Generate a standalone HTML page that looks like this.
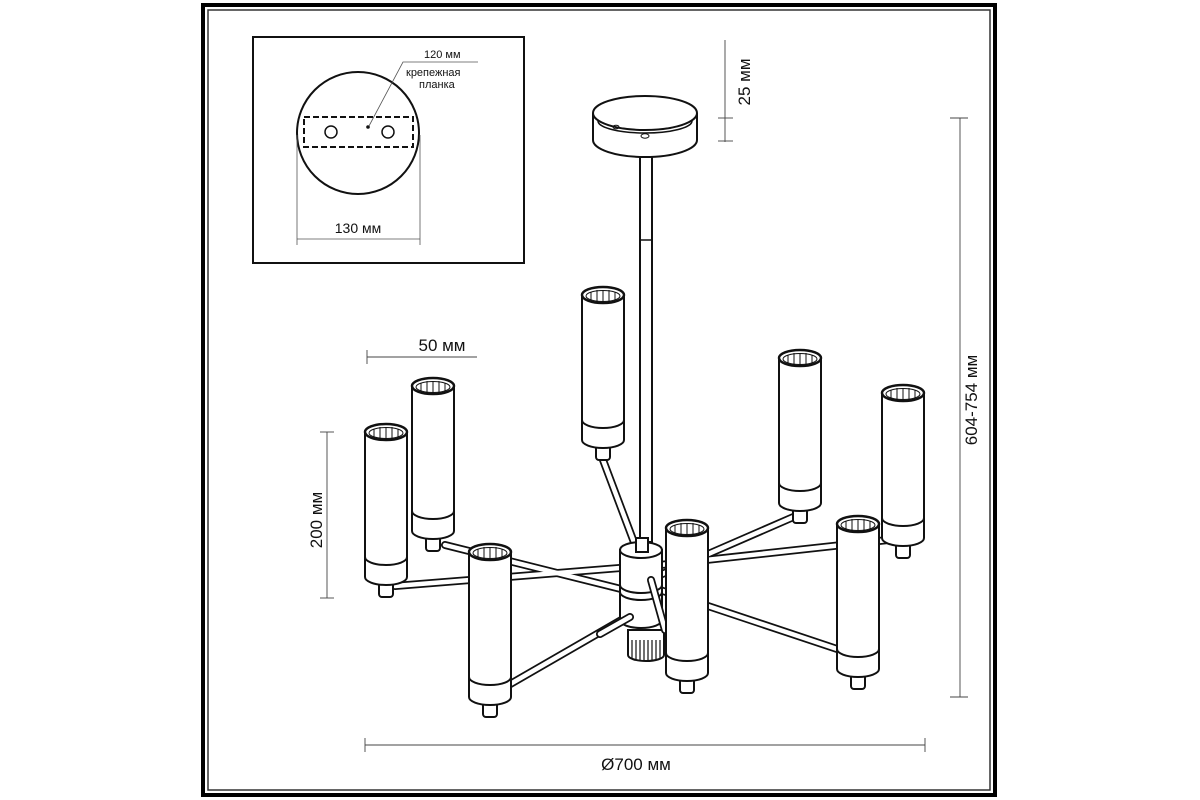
<!DOCTYPE html>
<html><head><meta charset="utf-8"><style>
html,body{margin:0;padding:0;background:#fff}
svg{display:block}
text{font-family:"Liberation Sans",sans-serif;fill:#111}
</style></head><body>
<svg width="1200" height="800" viewBox="0 0 1200 800" xmlns="http://www.w3.org/2000/svg">
<defs>
<g id="lamp" fill="#fff" stroke="#111" stroke-width="2">
  <rect x="-7" y="148" width="14" height="17" rx="3"/>
  <path d="M-21 0 V145 A21 8 0 0 0 21 145 V0 Z"/>
  <path d="M-21 125 A21 8 0 0 0 21 125" fill="none"/>
  <ellipse cx="0" cy="0" rx="21" ry="8" stroke-width="2.5"/>
  <ellipse cx="0" cy="1" rx="17" ry="5.5" stroke-width="1"/>
  <g stroke-width="1">
    <line x1="-12" y1="-3" x2="-12" y2="5"/><line x1="-6" y1="-5" x2="-6" y2="6"/>
    <line x1="0" y1="-5" x2="0" y2="6"/><line x1="6" y1="-5" x2="6" y2="6"/>
    <line x1="12" y1="-3" x2="12" y2="5"/>
  </g>
</g>
</defs>
<!-- frame -->
<rect x="203" y="5" width="792" height="790" fill="none" stroke="#000" stroke-width="4"/>
<rect x="208" y="10" width="782" height="780" fill="none" stroke="#333" stroke-width="1.5"/>

<!-- inset -->
<rect x="253" y="37" width="271" height="226" fill="none" stroke="#111" stroke-width="2"/>
<circle cx="358" cy="133" r="61" fill="none" stroke="#111" stroke-width="2"/>
<rect x="304" y="117" width="109" height="30" fill="none" stroke="#111" stroke-width="2" stroke-dasharray="6,3"/>
<circle cx="331" cy="132" r="6" fill="none" stroke="#111" stroke-width="1.5"/>
<circle cx="388" cy="132" r="6" fill="none" stroke="#111" stroke-width="1.5"/>
<circle cx="368" cy="127" r="1.8" fill="#111"/>
<polyline points="369,126 403,62 478,62" fill="none" stroke="#555" stroke-width="0.8"/>
<text x="424" y="58" font-size="11">120 мм</text>
<text x="406" y="76" font-size="11">крепежная</text>
<text x="419" y="88" font-size="11">планка</text>
<line x1="297" y1="135" x2="297" y2="245" stroke="#555" stroke-width="0.8"/>
<line x1="420" y1="135" x2="420" y2="245" stroke="#555" stroke-width="0.8"/>
<line x1="297" y1="239" x2="420" y2="239" stroke="#555" stroke-width="0.8"/>
<text x="358" y="233" font-size="14" text-anchor="middle">130 мм</text>

<!-- canopy -->
<path d="M593 113 V140 A52 17 0 0 0 697 140 V113" fill="#fff" stroke="#111" stroke-width="2"/>
<ellipse cx="645" cy="113" rx="52" ry="17" fill="#fff" stroke="#111" stroke-width="2"/>
<path d="M598 121 A47 12 0 0 0 692 121" fill="none" stroke="#111" stroke-width="1.5"/>
<ellipse cx="616" cy="127" rx="3" ry="1.8" fill="none" stroke="#111"/>
<ellipse cx="645" cy="136" rx="4" ry="2.2" fill="none" stroke="#111"/>
<!-- rod -->
<rect x="640" y="157" width="12" height="385" fill="#fff" stroke="#111" stroke-width="2"/>
<line x1="640" y1="240" x2="652" y2="240" stroke="#111" stroke-width="1.5"/>

<!-- arms -->
<g stroke-linecap="round">
 <g stroke="#111" stroke-width="8">
  <line x1="395" y1="586" x2="620" y2="568"/>
  <line x1="445" y1="545" x2="625" y2="590"/>
  <line x1="888" y1="540" x2="660" y2="565"/>
  <line x1="798" y1="515" x2="660" y2="575"/>
  <line x1="840" y1="650" x2="660" y2="590"/>
  <line x1="500" y1="690" x2="630" y2="615"/>
  <line x1="600" y1="452" x2="635" y2="545"/>
 </g>
 <g stroke="#fff" stroke-width="4.5">
  <line x1="395" y1="586" x2="620" y2="568"/>
  <line x1="445" y1="545" x2="625" y2="590"/>
  <line x1="888" y1="540" x2="660" y2="565"/>
  <line x1="798" y1="515" x2="660" y2="575"/>
  <line x1="840" y1="650" x2="660" y2="590"/>
  <line x1="500" y1="690" x2="630" y2="615"/>
  <line x1="600" y1="452" x2="635" y2="545"/>
 </g>
</g>

<!-- back lamps -->
<use href="#lamp" x="433" y="386"/>
<use href="#lamp" x="386" y="432"/>
<use href="#lamp" x="603" y="295"/>
<use href="#lamp" x="800" y="358"/>
<use href="#lamp" x="903" y="393"/>

<!-- hub -->
<g fill="#fff" stroke="#111" stroke-width="2">
 <path d="M628 630 V655 A18 6 0 0 0 664 655 V630 Z"/>
 <g stroke-width="1.2">
  <line x1="632" y1="640" x2="632" y2="658"/><line x1="636" y1="640" x2="636" y2="660"/>
  <line x1="640" y1="640" x2="640" y2="661"/><line x1="644" y1="640" x2="644" y2="661"/>
  <line x1="648" y1="640" x2="648" y2="661"/><line x1="652" y1="640" x2="652" y2="661"/>
  <line x1="656" y1="640" x2="656" y2="660"/><line x1="660" y1="640" x2="660" y2="658"/>
 </g>
 <path d="M620 550 V620 A21 8 0 0 0 662 620 V550 Z"/>
 <ellipse cx="641" cy="550" rx="21" ry="8"/>
 <path d="M620 585 A21 8 0 0 0 662 585" fill="none"/>
 <path d="M620 592 A21 8 0 0 0 662 592" fill="none"/>
 <rect x="636" y="538" width="12" height="14" fill="#fff"/>
 <line x1="630" y1="617" x2="600" y2="634" stroke-width="8" stroke-linecap="round"/>
 <line x1="630" y1="617" x2="600" y2="634" stroke="#fff" stroke-width="4.5" stroke-linecap="round"/>
 <line x1="651" y1="580" x2="665" y2="630" stroke-width="8" stroke-linecap="round"/>
 <line x1="651" y1="580" x2="665" y2="630" stroke="#fff" stroke-width="4.5" stroke-linecap="round"/>
</g>

<!-- front lamps -->
<use href="#lamp" x="490" y="552"/>
<use href="#lamp" x="858" y="524"/>
<use href="#lamp" x="687" y="528"/>

<!-- dimensions -->
<g stroke="#444" stroke-width="0.9" fill="none">
 <line x1="725" y1="40" x2="725" y2="142"/>
 <line x1="718" y1="118" x2="733" y2="118"/>
 <line x1="718" y1="141" x2="733" y2="141"/>
 <line x1="960" y1="118" x2="960" y2="697"/>
 <line x1="950" y1="118" x2="968" y2="118"/>
 <line x1="950" y1="697" x2="968" y2="697"/>
 <line x1="327" y1="432" x2="327" y2="598"/>
 <line x1="320" y1="432" x2="334" y2="432"/>
 <line x1="320" y1="598" x2="334" y2="598"/>
 <line x1="367" y1="357" x2="477" y2="357"/>
 <line x1="367" y1="350" x2="367" y2="364"/>
 <line x1="365" y1="745" x2="925" y2="745"/>
 <line x1="365" y1="738" x2="365" y2="752"/>
 <line x1="925" y1="738" x2="925" y2="752"/>
</g>
<text transform="translate(750,82) rotate(-90)" font-size="17" text-anchor="middle">25 мм</text>
<text transform="translate(977,400) rotate(-90)" font-size="17" text-anchor="middle">604-754 мм</text>
<text transform="translate(322,520) rotate(-90)" font-size="17" text-anchor="middle">200 мм</text>
<text x="442" y="351" font-size="17" text-anchor="middle">50 мм</text>
<text x="636" y="770" font-size="17" text-anchor="middle">Ø700 мм</text>
</svg>
</body></html>
